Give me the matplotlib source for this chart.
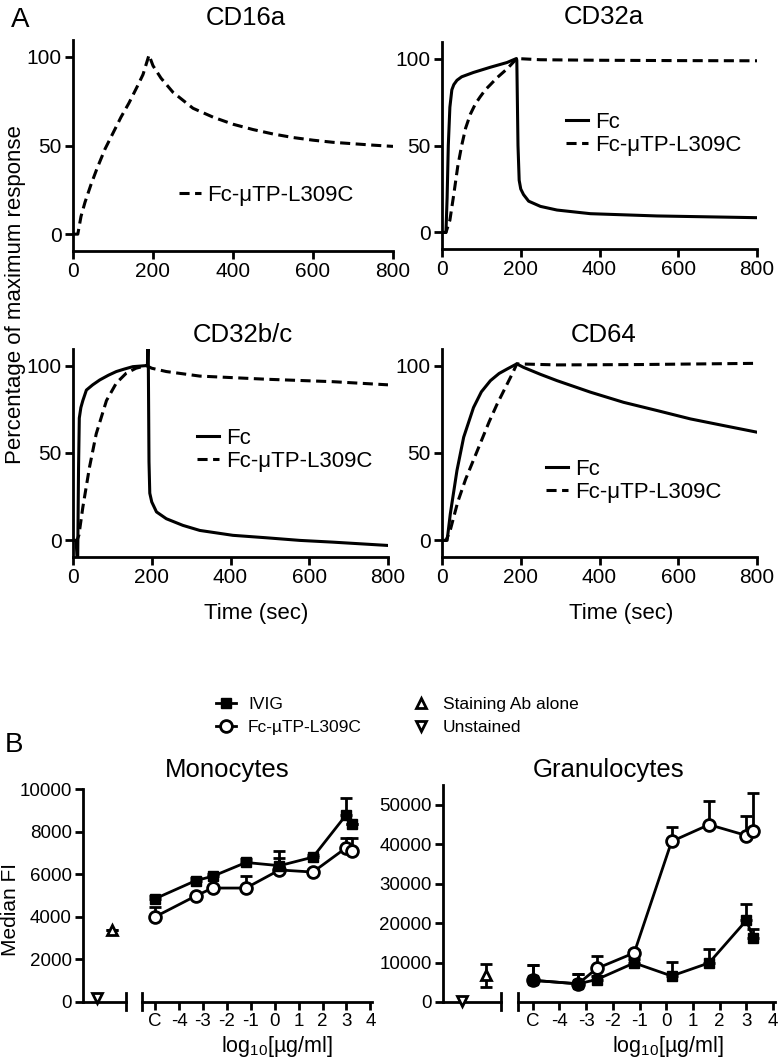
import numpy as np
import matplotlib
matplotlib.use("Agg")
import matplotlib.pyplot as plt

plt.rcParams['font.family'] = ['Liberation Sans', 'DejaVu Sans']
plt.rcParams['mathtext.fontset'] = 'custom'
plt.rcParams['mathtext.rm'] = 'Liberation Sans'

# ---------------- Panel A data ----------------
cd16a_t = [0, 12, 20, 30, 45, 60, 80, 100, 120, 140, 160, 175, 190, 200, 220, 250, 300,
           350, 400, 450, 500, 550, 600, 650, 700, 750, 800]
cd16a_mtp = [0, 0, 10, 18, 28, 37, 48, 57, 66, 74, 83, 90, 101, 95, 88, 80, 71,
             66, 62, 59, 56.5, 54.5, 53, 51.8, 51, 50.2, 49.5]

cd32a_fc_t = [0, 10, 13, 16, 20, 25, 30, 38, 50, 80, 123, 165, 189, 190, 193, 196, 200,
              207, 220, 250, 292, 377, 546, 800]
cd32a_fc = [0, 0, 20, 50, 72, 82, 85, 87.5, 89.5, 92, 95, 97.7, 100, 99, 50, 30, 25,
            21.8, 18, 15, 12.9, 10.8, 9.5, 8.5]
cd32a_mtp_t = [0, 10, 20, 30, 40, 50, 60, 72, 85, 97, 110, 123, 140, 165, 190, 250, 400, 600, 800]
cd32a_mtp = [0, 0, 7, 22, 38, 50, 60, 68, 74, 78, 82, 85, 89, 94, 100, 99.3, 99, 98.8, 98.7]

cd32bc_fc_t = [0, 8, 10, 12, 14, 16, 20, 25, 34, 50, 68, 90, 110, 130, 152, 186, 189, 190,
               191, 193, 195, 200, 212, 237, 279, 322, 406, 491, 576, 660, 800]
cd32bc_fc = [0, 0, -9, -9, 40, 70, 76, 80, 86, 89, 91.8, 94.5, 96.6, 98, 99.4, 100, 100, 112,
             112, 45, 27, 22, 16.3, 12.4, 8.6, 5.7, 2.9, 1.5, 0, -1, -2.9]
cd32bc_mtp_t = [0, 10, 15, 25, 42, 59, 85, 110, 135, 160, 186, 200, 237, 322, 491, 660, 800]
cd32bc_mtp = [0, 0, 3, 19, 42, 61, 80, 90, 95.6, 98.5, 100, 98.5, 96.6, 94, 92.2, 90.8, 89]

cd64_fc_t = [0, 13, 21, 38, 55, 80, 100, 123, 145, 165, 190, 207, 250, 292, 377, 461, 546,
             631, 715, 800]
cd64_fc = [0, 0, 15, 40, 59, 76, 85, 91.4, 95.5, 98, 101, 99, 95, 91.4, 84.8, 79, 74.3,
           69.5, 65.7, 61.9]
cd64_mtp_t = [0, 10, 20, 40, 60, 80, 100, 120, 140, 160, 180, 190, 292, 500, 800]
cd64_mtp = [0, 0, 5, 22, 35, 46, 57, 68, 78, 87, 96, 101, 100.4, 100.6, 101.3]

# ---------------- Panel B data (median FI) ----------------
conc_x = [-5, -3.3, -2.6, -1.2, 0.2, 1.6, 3.0, 3.25]
conc_ticks = [-5, -4, -3, -2, -1, 0, 1, 2, 3, 4]
conc_labels = ['C', '-4', '-3', '-2', '-1', '0', '1', '2', '3', '4']

mono_ivig = [4850, 5700, 5900, 6550, 6400, 6800, 8800, 8350]
mono_ivig_err = [150, 100, 100, 150, 690, 100, 800, 0]
mono_mtp = [4000, 4980, 5350, 5350, 6200, 6100, 7250, 7100]
mono_mtp_err = [480, 100, 100, 550, 560, 100, 450, 600]
mono_ctrl_x = [1, 2]
mono_unstained = [200]
mono_staining = [3400]
mono_staining_err = [0]

gran_ivig = [5500, 4600, 5700, 9900, 6600, 9900, 20700, 16300]
gran_ivig_err = [4000, 2600, 1000, 1000, 3600, 3650, 4050, 2300]
gran_mtp = [5500, 4600, 8500, 12450, 40700, 44950, 42200, 43400]
gran_mtp_err = [4000, 2600, 3100, 850, 3700, 6050, 5000, 9450]
gran_ctrl_x = [1, 2.25]
gran_unstained = [300]
gran_staining = [6800]
gran_staining_err = [2900]

W, H = 780, 1063
fig = plt.figure(figsize=(W / 100, H / 100), dpi=100)


def fbox(x0, x1, ytop, ybot):
    return [x0 / W, 1 - ybot / H, (x1 - x0) / W, (ybot - ytop) / H]


def style_kin(ax):
    ax.set_xlim(0, 800)
    ax.set_ylim(-9.5, 109.5)
    ax.set_xticks([0, 200, 400, 600, 800])
    ax.set_yticks([0, 50, 100])
    ax.spines['top'].set_visible(False)
    ax.spines['right'].set_visible(False)
    ax.spines['left'].set_linewidth(2)
    ax.spines['bottom'].set_linewidth(2)
    ax.tick_params(width=2, length=6, labelsize=15, pad=2)


dash = (3.3, 1.8)
lw = 2.2
kin = [
    ('CD16a', fbox(73, 393, 40, 251), None, (cd16a_t, cd16a_mtp), (0.33, 0.265), 0.54, 11),
    ('CD32a', fbox(442, 757, 42, 249), (cd32a_fc_t, cd32a_fc), (cd32a_mtp_t, cd32a_mtp), (0.394, 0.556), 0.514, 13),
    ('CD32b/c', fbox(73, 388, 349, 557), (cd32bc_fc_t, cd32bc_fc), (cd32bc_mtp_t, cd32bc_mtp), (0.394, 0.514), 0.54, 5),
    ('CD64', fbox(442, 757, 349, 557), (cd64_fc_t, cd64_fc), (cd64_mtp_t, cd64_mtp), (0.33, 0.365), 0.514, 5),
]
for i, (name, box, fc, mtp, leg_xy, tx, tpad) in enumerate(kin):
    ax = fig.add_axes(box)
    handles = []
    if fc is not None:
        h1, = ax.plot(fc[0], fc[1], '-', color='black', lw=lw, label='Fc', solid_joinstyle='round')
        handles.append(h1)
    h2, = ax.plot(mtp[0], mtp[1], '--', color='black', lw=lw, dashes=dash, label='Fc-μTP-L309C')
    handles.append(h2)
    style_kin(ax)
    ax.set_title(name, fontsize=18.5, x=tx, pad=tpad)
    ax.legend(handles=handles, loc='center left', bbox_to_anchor=leg_xy, frameon=False,
              fontsize=16, handlelength=1.0, handletextpad=0.3, labelspacing=0.1,
              borderpad=0, borderaxespad=0)
    if i >= 2:
        ax.set_xlabel('Time (sec)', fontsize=16, labelpad=10)
        ax.xaxis.set_label_coords(0.58 if i == 2 else 0.57, -0.22)

fig.text(16 / W, 1 - 295 / H, 'Percentage of maximum response', rotation=90,
         ha='center', va='center', fontsize=16)
fig.text(20 / W, 1 - 20 / H, 'A', ha='center', va='center', fontsize=20)
fig.text(14 / W, 1 - 745 / H, 'B', ha='center', va='center', fontsize=20)


# ---------------- Panel B ----------------
def style_b(ax, ylim, yticks, left):
    ax.set_ylim(*ylim)
    ax.spines['top'].set_visible(False)
    ax.spines['right'].set_visible(False)
    ax.spines['bottom'].set_linewidth(2)
    ax.spines['left'].set_linewidth(2)
    ax.tick_params(width=2, length=6, labelsize=13.5, pad=2)
    if left:
        ax.set_yticks(yticks)
        ax.set_xticks([])
    else:
        ax.spines['left'].set_visible(False)
        ax.set_yticks([])


panels_b = [
    ('Monocytes', (83, 126, 142, 372), (0, 10000), range(0, 10001, 2000), 789,
     mono_ivig, mono_ivig_err, mono_mtp, mono_mtp_err,
     mono_ctrl_x, mono_unstained, mono_staining, mono_staining_err, 277),
    ('Granulocytes', (443, 501, 518, 775), (0, 55000), range(0, 50001, 10000), 785,
     gran_ivig, gran_ivig_err, gran_mtp, gran_mtp_err,
     gran_ctrl_x, gran_unstained, gran_staining, gran_staining_err, 668),
]
leg_handles = None
for (name, xs, ylim, yticks, ytop, ivig, ivig_err, mtp, mtp_err,
     cx, unst, stain, stain_err, xlab_x) in panels_b:
    axl = fig.add_axes(fbox(xs[0], xs[1], ytop, 1002))
    axr = fig.add_axes(fbox(xs[2], xs[3], ytop, 1002))
    style_b(axl, ylim, yticks, True)
    style_b(axr, ylim, yticks, False)
    axl.set_xlim(0, 3)
    axr.set_xlim(-5.55, 4.07)
    axr.set_xticks(conc_ticks)
    axr.set_xticklabels(conc_labels)
    # break caps
    axl.axvline(3, ymin=-0.038, ymax=0.042, color='black', lw=2, clip_on=False)
    axr.axvline(-5.55, ymin=-0.038, ymax=0.042, color='black', lw=2, clip_on=False)

    # controls
    axl.errorbar([cx[1]], stain, yerr=stain_err, fmt='none', ecolor='black', elinewidth=2,
                 capsize=4.5, capthick=2, clip_on=False)
    hs, = axl.plot([cx[1]], stain, linestyle='none', marker='^', ms=7.5, mfc='white',
                   mec='black', mew=2, clip_on=False, zorder=4, label='Staining Ab alone')
    hu, = axl.plot([cx[0]], unst, linestyle='none', marker='v', ms=7.5, mfc='white',
                   mec='black', mew=2, clip_on=False, zorder=4, label='Unstained')

    # dose curves
    z = np.zeros(len(conc_x))
    axr.errorbar(conc_x, mtp, yerr=[z, mtp_err], fmt='none', ecolor='black', elinewidth=2,
                 capsize=4.5, capthick=2, clip_on=False)
    axr.errorbar(conc_x, ivig, yerr=[z, ivig_err], fmt='none', ecolor='black', elinewidth=2,
                 capsize=4.5, capthick=2, clip_on=False)
    hm, = axr.plot(conc_x, mtp, '-o', color='black', lw=2, ms=8.5, mfc='white', mec='black',
                   mew=2, clip_on=False, zorder=3, label='Fc-µTP-L309C')
    hi, = axr.plot(conc_x, ivig, '-s', color='black', lw=2, ms=7.5, mfc='black', mec='black',
                   clip_on=False, zorder=4, label='IVIG')

    fig.text((xs[0] + xs[3]) / 2 / W, 1 - 777 / H, name, ha='center', va='baseline', fontsize=18.5)
    fig.text(xlab_x / W, 1 - 1052 / H, r'log$_{\mathregular{10}}$[µg/ml]', ha='center',
             va='baseline', fontsize=15.5)
    if leg_handles is None:
        leg_handles = [hi, hm, hs, hu]

fig.text(11 / W, 1 - 910 / H, 'Median FI', rotation=90, ha='center', va='center', fontsize=15)

fig.legend(handles=leg_handles, loc='upper left', bbox_to_anchor=(216 / W, 1 - 697 / H),
           ncol=2, frameon=False, fontsize=12.5, handlelength=1.15, handletextpad=0.7,
           labelspacing=0.45, columnspacing=2.8, borderpad=0, borderaxespad=0, numpoints=1)

fig.savefig('out.png', dpi=100)
